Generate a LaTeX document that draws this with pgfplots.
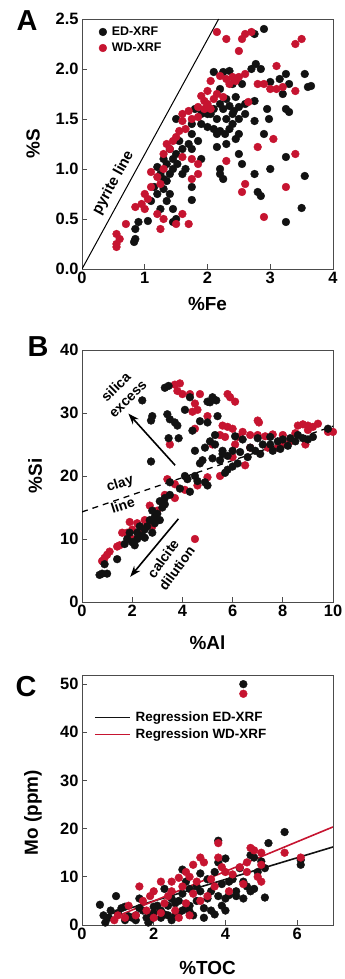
\documentclass[border=0pt]{standalone}
\usepackage{pgfplots}
\pgfplotsset{compat=1.18}
\usepackage{fontspec}
\setmainfont{Liberation Sans}
\usetikzlibrary{arrows.meta}
\definecolor{wdred}{RGB}{198,20,48}
\definecolor{edblk}{RGB}{18,18,18}
\pgfplotsset{
  panel/.style={
    scale only axis, width=251bp,
    axis line style={black!70,line width=0.9bp},
    tick style={black!70,line width=0.9bp},
    tick align=inside, major tick length=5bp,
    xtick pos=left, ytick pos=left,
    /pgf/number format/assume math mode=true,
    tick label style={font=\bfseries\fontsize{16.5}{16.5}\selectfont},
    label style={font=\bfseries\fontsize{19}{19}\selectfont},
  },
  edpt/.style={only marks, mark=*, color=edblk, mark size=3.9bp, mark options={draw=edblk, fill=edblk}},
  wdpt/.style={only marks, mark=*, color=wdred, mark size=3.9bp, mark options={draw=wdred, fill=wdred}},
}
\begin{document}
\begin{tikzpicture}
\path[use as bounding box] (0,0) rectangle (345bp,979bp);
\node[font=\bfseries\fontsize{29}{29}\selectfont] at (27bp,958bp) {A};
\node[font=\bfseries\fontsize{29}{29}\selectfont] at (38bp,632bp) {B};
\node[font=\bfseries\fontsize{29}{29}\selectfont] at (26bp,292bp) {C};
% ---------------- Panel A
\begin{axis}[panel, at={(82bp,710bp)}, anchor=south west, height=250bp,
  xmin=0, xmax=4, ymin=0, ymax=2.5,
  xtick={0,1,2,3,4}, ytick={0,0.5,1,1.5,2,2.5},
  yticklabel style={/pgf/number format/.cd,fixed,fixed zerofill,precision=1},
  xlabel={\%Fe}, ylabel={\%S},
  xlabel style={at={(axis description cs:0.5,-0.14)},anchor=center},
  ylabel style={at={(axis description cs:-0.195,0.5)},anchor=center},
  legend style={at={(axis description cs:0.055,0.985)}, anchor=north west, draw=none, fill=none,
    font=\bfseries\fontsize{12.5}{13}\selectfont, row sep=2bp,
    nodes={inner xsep=5bp}},
  legend cell align=left]
\addplot[black, line width=1bp, forget plot] coordinates {(0,0) (2.178,2.5)};
\node[rotate=61.3, font=\bfseries\fontsize{15}{15}\selectfont] at (axis cs:0.5,0.86) {pyrite line};
\addplot[edpt] coordinates {
(2.75,2.35)(2.9,2.4)(2.1,1.97)(2.25,1.97)(2.35,1.98)(2.7,2.0)(2.77,2.05)(2.85,2.0)(3.25,1.95)(3.55,1.95)
(2.4,1.85)(2.55,1.85)(3.0,1.87)(3.15,1.9)(3.3,1.85)(3.6,1.82)(3.65,1.83)(2.2,1.8)(3.2,1.75)(2.2,1.65)
(2.3,1.7)(2.45,1.72)(2.6,1.65)(2.75,1.68)(2.0,1.63)(2.1,1.6)(2.25,1.6)(2.35,1.63)(2.42,1.58)(2.5,1.62)
(2.95,1.6)(3.25,1.6)(3.3,1.57)(1.8,1.6)(1.9,1.55)(2.05,1.55)(2.15,1.5)(2.3,1.5)(2.4,1.45)(2.5,1.5)
(2.75,1.48)(2.98,1.5)(1.5,1.5)(1.75,1.45)(2.0,1.42)(2.1,1.4)(2.2,1.38)(2.35,1.4)(1.75,1.35)(2.15,1.35)
(2.28,1.35)(2.5,1.35)(2.9,1.35)(1.55,1.28)(1.7,1.25)(1.85,1.28)(1.6,1.2)(1.75,1.2)(1.4,1.2)(1.5,1.15)
(2.15,1.22)(2.3,1.25)(2.5,1.15)(2.55,1.05)(1.3,1.1)(1.35,1.05)(1.45,1.1)(1.2,1.02)(1.25,0.95)(1.3,0.9)
(1.4,0.95)(1.52,1.05)(1.65,1.0)(1.6,0.95)(1.9,1.1)(2.2,0.95)(2.25,0.9)(2.75,0.95)(3.0,1.0)(3.25,1.12)
(3.55,0.93)(1.15,0.82)(1.3,0.8)(1.4,0.75)(1.2,0.75)(1.35,0.68)(1.1,0.68)(1.45,0.6)(1.25,0.6)(1.75,0.82)
(1.75,0.69)(2.8,0.77)(2.85,0.73)(1.05,0.48)(0.9,0.47)(1.45,0.47)(1.5,0.5)(0.85,0.4)(0.85,0.3)(0.83,0.27)
(3.25,0.47)(3.5,0.61)(2.2,1.0)(1.35,0.88)(1.45,1.0)(2.4,1.55)(2.6,1.55)(2.0,1.55)(1.9,1.45)(2.45,1.3)
};
\addlegendentry{ED-XRF}
\addplot[wdpt] coordinates {
(2.15,2.37)(2.55,2.3)(2.3,2.3)(2.6,2.35)(2.7,2.37)(3.4,2.25)(3.5,2.3)(2.5,2.18)(3.1,2.03)(2.05,1.88)
(2.2,1.93)(2.3,1.9)(2.4,1.92)(2.5,1.92)(2.6,1.95)(2.45,1.88)(2.8,1.85)(2.9,1.85)(3.0,1.8)(3.1,1.8)
(3.2,1.82)(3.4,1.78)(2.0,1.78)(2.15,1.75)(2.1,1.7)(1.9,1.73)(1.95,1.68)(2.0,1.65)(2.65,1.67)(1.85,1.62)
(2.05,1.6)(1.7,1.58)(1.6,1.55)(1.75,1.5)(1.85,1.52)(1.6,1.48)(1.65,1.4)(1.55,1.38)(1.5,1.32)(1.45,1.28)
(1.35,1.25)(1.4,1.2)(1.3,1.15)(1.6,1.12)(1.75,1.1)(1.85,1.05)(2.3,1.08)(2.8,1.22)(3.05,1.3)(3.4,1.15)
(1.3,1.0)(1.1,0.97)(1.2,0.92)(1.25,0.85)(1.1,0.82)(1.0,0.75)(1.05,0.7)(0.95,0.65)(1.0,0.6)(1.2,0.55)
(1.3,0.5)(1.25,0.4)(0.85,0.62)(1.75,0.9)(1.85,0.95)(1.5,0.45)(1.7,0.45)(2.6,0.85)(2.55,0.77)(2.9,0.52)
(3.25,0.82)(0.7,0.45)(0.55,0.35)(0.6,0.3)(0.55,0.25)(0.55,0.22)(1.6,0.55)(2.25,1.72)(2.35,1.85)(1.95,1.6)
};
\addlegendentry{WD-XRF}
\end{axis}
% ---------------- Panel B
\begin{axis}[panel, at={(82bp,377bp)}, anchor=south west, height=252bp,
  xmin=0, xmax=10, ymin=0, ymax=40,
  xtick={0,2,4,6,8,10}, ytick={0,10,20,30,40},
  xlabel={\%Al}, ylabel={\%Si},
  xlabel style={at={(axis description cs:0.5,-0.16)},anchor=center},
  ylabel style={at={(axis description cs:-0.187,0.5)},anchor=center}]
\addplot[wdpt] coordinates {
(3.7,34.5)(3.9,34.7)(3.8,33.5)(4.0,33.0)(4.3,33.0)(4.7,33.0)(5.8,33.0)(5.9,32.5)(6.1,31.8)(4.5,31.5)
(4.6,30.5)(4.4,30.2)(5.0,29.5)(4.5,27.5)(5.6,28.0)(5.8,27.8)(6.0,27.5)(7.0,28.8)(7.05,28.5)(5.5,26.5)
(6.4,27.0)(6.7,26.5)(5.7,26.2)(6.2,26.2)(7.0,26.5)(7.3,26.3)(7.6,26.6)(8.0,26.5)(8.3,25.5)(8.6,28.0)
(8.8,28.2)(9.0,28.0)(9.2,27.8)(9.4,28.3)(9.8,27.0)(10.0,27.0)(8.9,25.0)(7.8,24.5)(8.0,25.0)(7.4,24.5)
(6.7,24.5)(6.1,25.0)(5.2,25.0)(6.0,23.0)(6.5,21.7)(5.5,20.0)(5.0,19.8)(4.6,18.5)(4.1,17.8)(3.7,18.7)
(3.4,19.5)(3.3,17.0)(3.7,16.5)(3.5,25.0)(2.7,15.3)(2.5,13.0)(2.2,12.5)(1.9,12.7)(1.8,11.0)(1.6,11.0)
(1.5,9.0)(1.4,8.8)(2.0,11.5)(2.3,11.2)(2.8,12.0)(1.1,8.0)(1.0,7.5)(0.8,6.5)(4.5,10.0)(0.9,7.0)
(2.0,10.0)(2.4,11.8)(3.0,14.5)(9.0,27.3)(8.5,26.8)
};
\addplot[edpt] coordinates {
(3.3,34.0)(3.45,34.3)(2.4,32.0)(4.3,32.5)(5.0,31.8)(5.1,31.7)(5.2,32.5)(5.35,32.0)(4.1,30.5)(2.8,29.5)
(2.75,28.8)(3.4,29.8)(3.5,29.0)(3.7,28.5)(3.8,28.0)(5.4,29.5)(4.7,28.7)(5.0,28.5)(3.45,26.0)(3.85,26.0)
(2.75,22.3)(4.4,27.2)(5.3,26.5)(5.1,25.5)(5.3,25.0)(4.5,24.0)(4.9,24.5)(5.6,24.0)(6.1,26.3)(6.4,25.8)
(7.0,26.0)(7.5,26.2)(7.8,25.5)(8.0,25.8)(8.3,26.0)(8.6,26.5)(9.0,25.8)(9.2,26.2)(8.2,24.8)(7.9,24.3)
(7.5,25.0)(6.7,24.5)(6.9,24.0)(7.1,23.5)(6.6,23.0)(6.3,23.8)(6.0,24.0)(5.8,23.2)(5.6,23.5)(5.5,22.5)
(5.8,21.0)(5.7,20.5)(6.2,22.0)(6.0,21.5)(4.8,22.5)(4.7,22.0)(5.2,22.8)(4.9,19.0)(5.0,18.5)(4.5,20.0)
(4.1,20.0)(4.2,19.5)(4.6,19.2)(4.3,17.5)(3.9,18.0)(3.5,19.0)(3.5,17.0)(3.3,16.5)(3.1,16.0)(3.2,15.0)
(3.0,14.0)(2.9,13.5)(2.8,14.5)(2.9,12.5)(2.6,12.0)(2.5,11.5)(2.4,10.5)(2.2,10.0)(2.0,9.5)(1.8,10.0)
(1.9,11.0)(2.3,12.0)(2.7,13.0)(3.1,13.0)(2.1,9.0)(1.7,9.2)(2.5,10.2)(2.8,11.0)(3.3,15.5)(1.4,6.8)
(0.9,6.0)(0.8,4.5)(0.7,4.3)(1.0,4.5)(7.2,25.0)(8.5,25.5)(9.8,27.5)(8.8,26.0)(7.6,24.0)(2.2,11.0)
};
\addplot[black, line width=1.3bp, dash pattern=on 6bp off 5bp] coordinates {(0,14.3) (10,27.9)};
\draw[line width=1.6bp, -{Stealth[length=11bp,width=8bp]}] (axis cs:3.71,21.7) -- (axis cs:1.85,29.9);
\draw[line width=1.6bp, -{Stealth[length=11bp,width=8bp]}] (axis cs:3.84,13.2) -- (axis cs:1.92,4.0);
\node[rotate=45, align=center, font=\bfseries\fontsize{14}{17}\selectfont, inner sep=0pt] at (axis cs:1.58,33.2) {silica\\excess};
\node[rotate=18, font=\bfseries\fontsize{14}{14}\selectfont, inner sep=0pt] at (axis cs:1.52,18.7) {clay};
\node[rotate=18, font=\bfseries\fontsize{14}{14}\selectfont, inner sep=0pt] at (axis cs:1.62,15.4) {line};
\node[rotate=54, align=center, font=\bfseries\fontsize{14}{17}\selectfont, inner sep=0pt] at (axis cs:3.5,6.1) {calcite\\dilution};
\end{axis}
% ---------------- Panel C
\begin{axis}[panel, at={(82bp,54bp)}, anchor=south west, height=250bp,
  xmin=0, xmax=7, ymin=0, ymax=51.9,
  xtick={0,2,4,6}, ytick={0,10,20,30,40,50},
  xlabel={\%TOC}, ylabel={Mo (ppm)},
  xlabel style={at={(axis description cs:0.5,-0.172)},anchor=center},
  ylabel style={at={(axis description cs:-0.195,0.45)},anchor=center},
  legend style={at={(axis description cs:0.035,0.87)}, anchor=north west, draw=none, fill=none,
    font=\bfseries\fontsize{13.5}{14}\selectfont, row sep=2bp, nodes={inner xsep=5bp}},
  legend cell align=left,
  legend image code/.code={\draw[#1] (0bp,0bp) -- (35bp,0bp);}]
\addplot[edpt, forget plot] coordinates {
(4.5,50)(5.65,19.3)(5.2,17.0)(3.8,17.5)(6.1,12.5)(6.1,13.5)(4.0,13.8)(3.8,13.0)(4.7,14.5)(4.8,14.0)
(5.0,13.2)(4.9,11.0)(5.1,11.8)(4.4,11.8)(3.3,10.7)(2.8,11.5)(3.7,11.0)(4.2,9.5)(4.5,9.0)(4.6,8.0)
(4.8,7.5)(4.7,7.0)(4.5,5.5)(5.1,5.7)(4.1,6.2)(4.3,6.0)(4.0,5.5)(3.9,4.0)(3.7,2.2)(4.0,3.0)
(3.4,1.5)(3.6,3.0)(3.5,5.5)(3.3,7.0)(3.2,8.0)(3.0,7.5)(2.9,9.0)(2.8,6.5)(2.7,5.0)(2.6,4.5)
(2.5,5.5)(2.4,4.0)(2.3,7.5)(2.2,3.0)(2.1,4.0)(2.0,2.5)(1.9,2.0)(1.8,1.5)(1.7,3.0)(1.6,5.5)
(1.5,2.0)(1.4,1.5)(1.3,1.8)(1.2,1.0)(1.1,3.5)(1.0,2.5)(0.95,6.0)(0.8,3.0)(0.75,1.5)(0.65,0.5)
(0.5,4.2)(0.6,2.0)(1.2,3.8)(1.6,3.5)(2.0,3.8)(2.2,1.5)(2.5,1.0)(2.7,2.5)(2.9,3.5)(3.1,2.0)
(3.0,4.0)(3.2,5.0)(3.4,3.5)(2.6,2.0)(2.8,3.0)(1.9,1.0)(1.85,0.5)(2.4,2.0)(3.6,7.0)(3.9,8.5)
(4.1,9.0)(4.3,7.0)(3.5,9.5)(3.0,2.8)(2.3,2.2)(1.5,1.0)(3.8,6.0)
};
\addplot[wdpt, forget plot] coordinates {
(4.5,48)(3.8,17.0)(5.65,15.0)(6.1,14.0)(4.7,16.0)(4.8,15.5)(5.0,15.0)(5.0,12.5)(4.6,13.0)(4.4,12.0)
(3.9,12.0)(3.8,14.0)(3.3,14.0)(3.4,13.0)(3.1,12.5)(2.9,11.0)(2.7,9.8)(2.5,9.0)(2.2,9.0)(2.0,7.0)
(1.9,6.0)(1.6,8.0)(1.7,5.0)(2.4,6.0)(2.8,8.0)(3.0,10.0)(3.2,9.0)(3.6,9.5)(4.0,11.0)(4.2,10.5)
(4.6,11.0)(5.0,9.0)(4.9,10.0)(4.5,8.5)(3.5,6.0)(3.3,5.0)(2.9,4.5)(2.6,3.0)(2.2,2.5)(1.8,3.0)
(1.5,2.0)(1.2,1.5)(1.0,2.0)(0.9,1.0)(1.3,4.0)(2.0,1.5)(2.7,1.5)(3.0,2.0)(2.3,4.5)(2.5,7.0)
(3.7,8.0)(4.1,7.0)(3.1,6.5)
};
\addplot[edblk, line width=1.6bp] coordinates {(0.6,1.84) (7,16.2)};
\addlegendentry{Regression ED-XRF}
\addplot[wdred, line width=1.6bp] coordinates {(0.6,0.65) (7,20.36)};
\addlegendentry{Regression WD-XRF}
\end{axis}
\end{tikzpicture}
\end{document}
